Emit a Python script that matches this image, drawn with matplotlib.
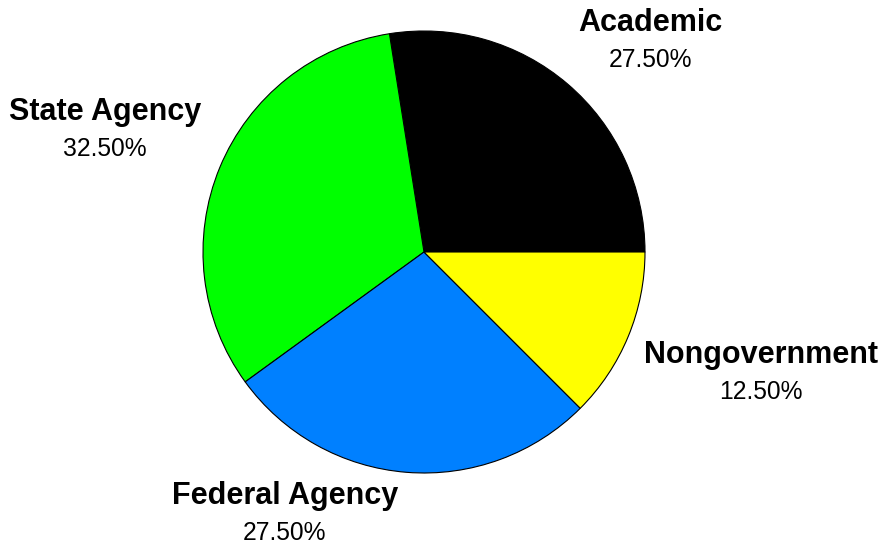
import matplotlib.pyplot as plt

categories = ["Academic", "State Agency", "Federal Agency", "Nongovernment"]
shares = [27.5, 32.5, 27.5, 12.5]
colors = ["#000000", "#00ff00", "#0080ff", "#ffff00"]

plt.rcParams["font.family"] = ["Liberation Sans", "DejaVu Sans"]

W, H = 884, 545
fig = plt.figure(figsize=(W / 100, H / 100), dpi=100)
ax = fig.add_axes([0, 0, 1, 1])

# pie centre / radius in pixel units (y measured from bottom)
cx, cy, r = 424, H - 252, 221
ax.pie(shares, colors=colors, startangle=0, counterclock=True,
       center=(cx, cy), radius=r, frame=True,
       wedgeprops=dict(edgecolor="black", linewidth=0.8))
ax.set_xlim(0, W)
ax.set_ylim(0, H)
ax.set_aspect("equal")
ax.axis("off")

# label anchor points (pixel coords from top-left)
label_pos = [(650, 23), (105, 112), (285, 496), (761, 355)]
for name, val, (px, py) in zip(categories, shares, label_pos):
    ax.text(px, H - py, name, ha="center", va="center",
            fontsize=22, fontweight="bold")
    ax.text(px, H - py - 37, f"{val:.2f}%", ha="center", va="center",
            fontsize=17.7)

fig.savefig("out.png", dpi=100)
